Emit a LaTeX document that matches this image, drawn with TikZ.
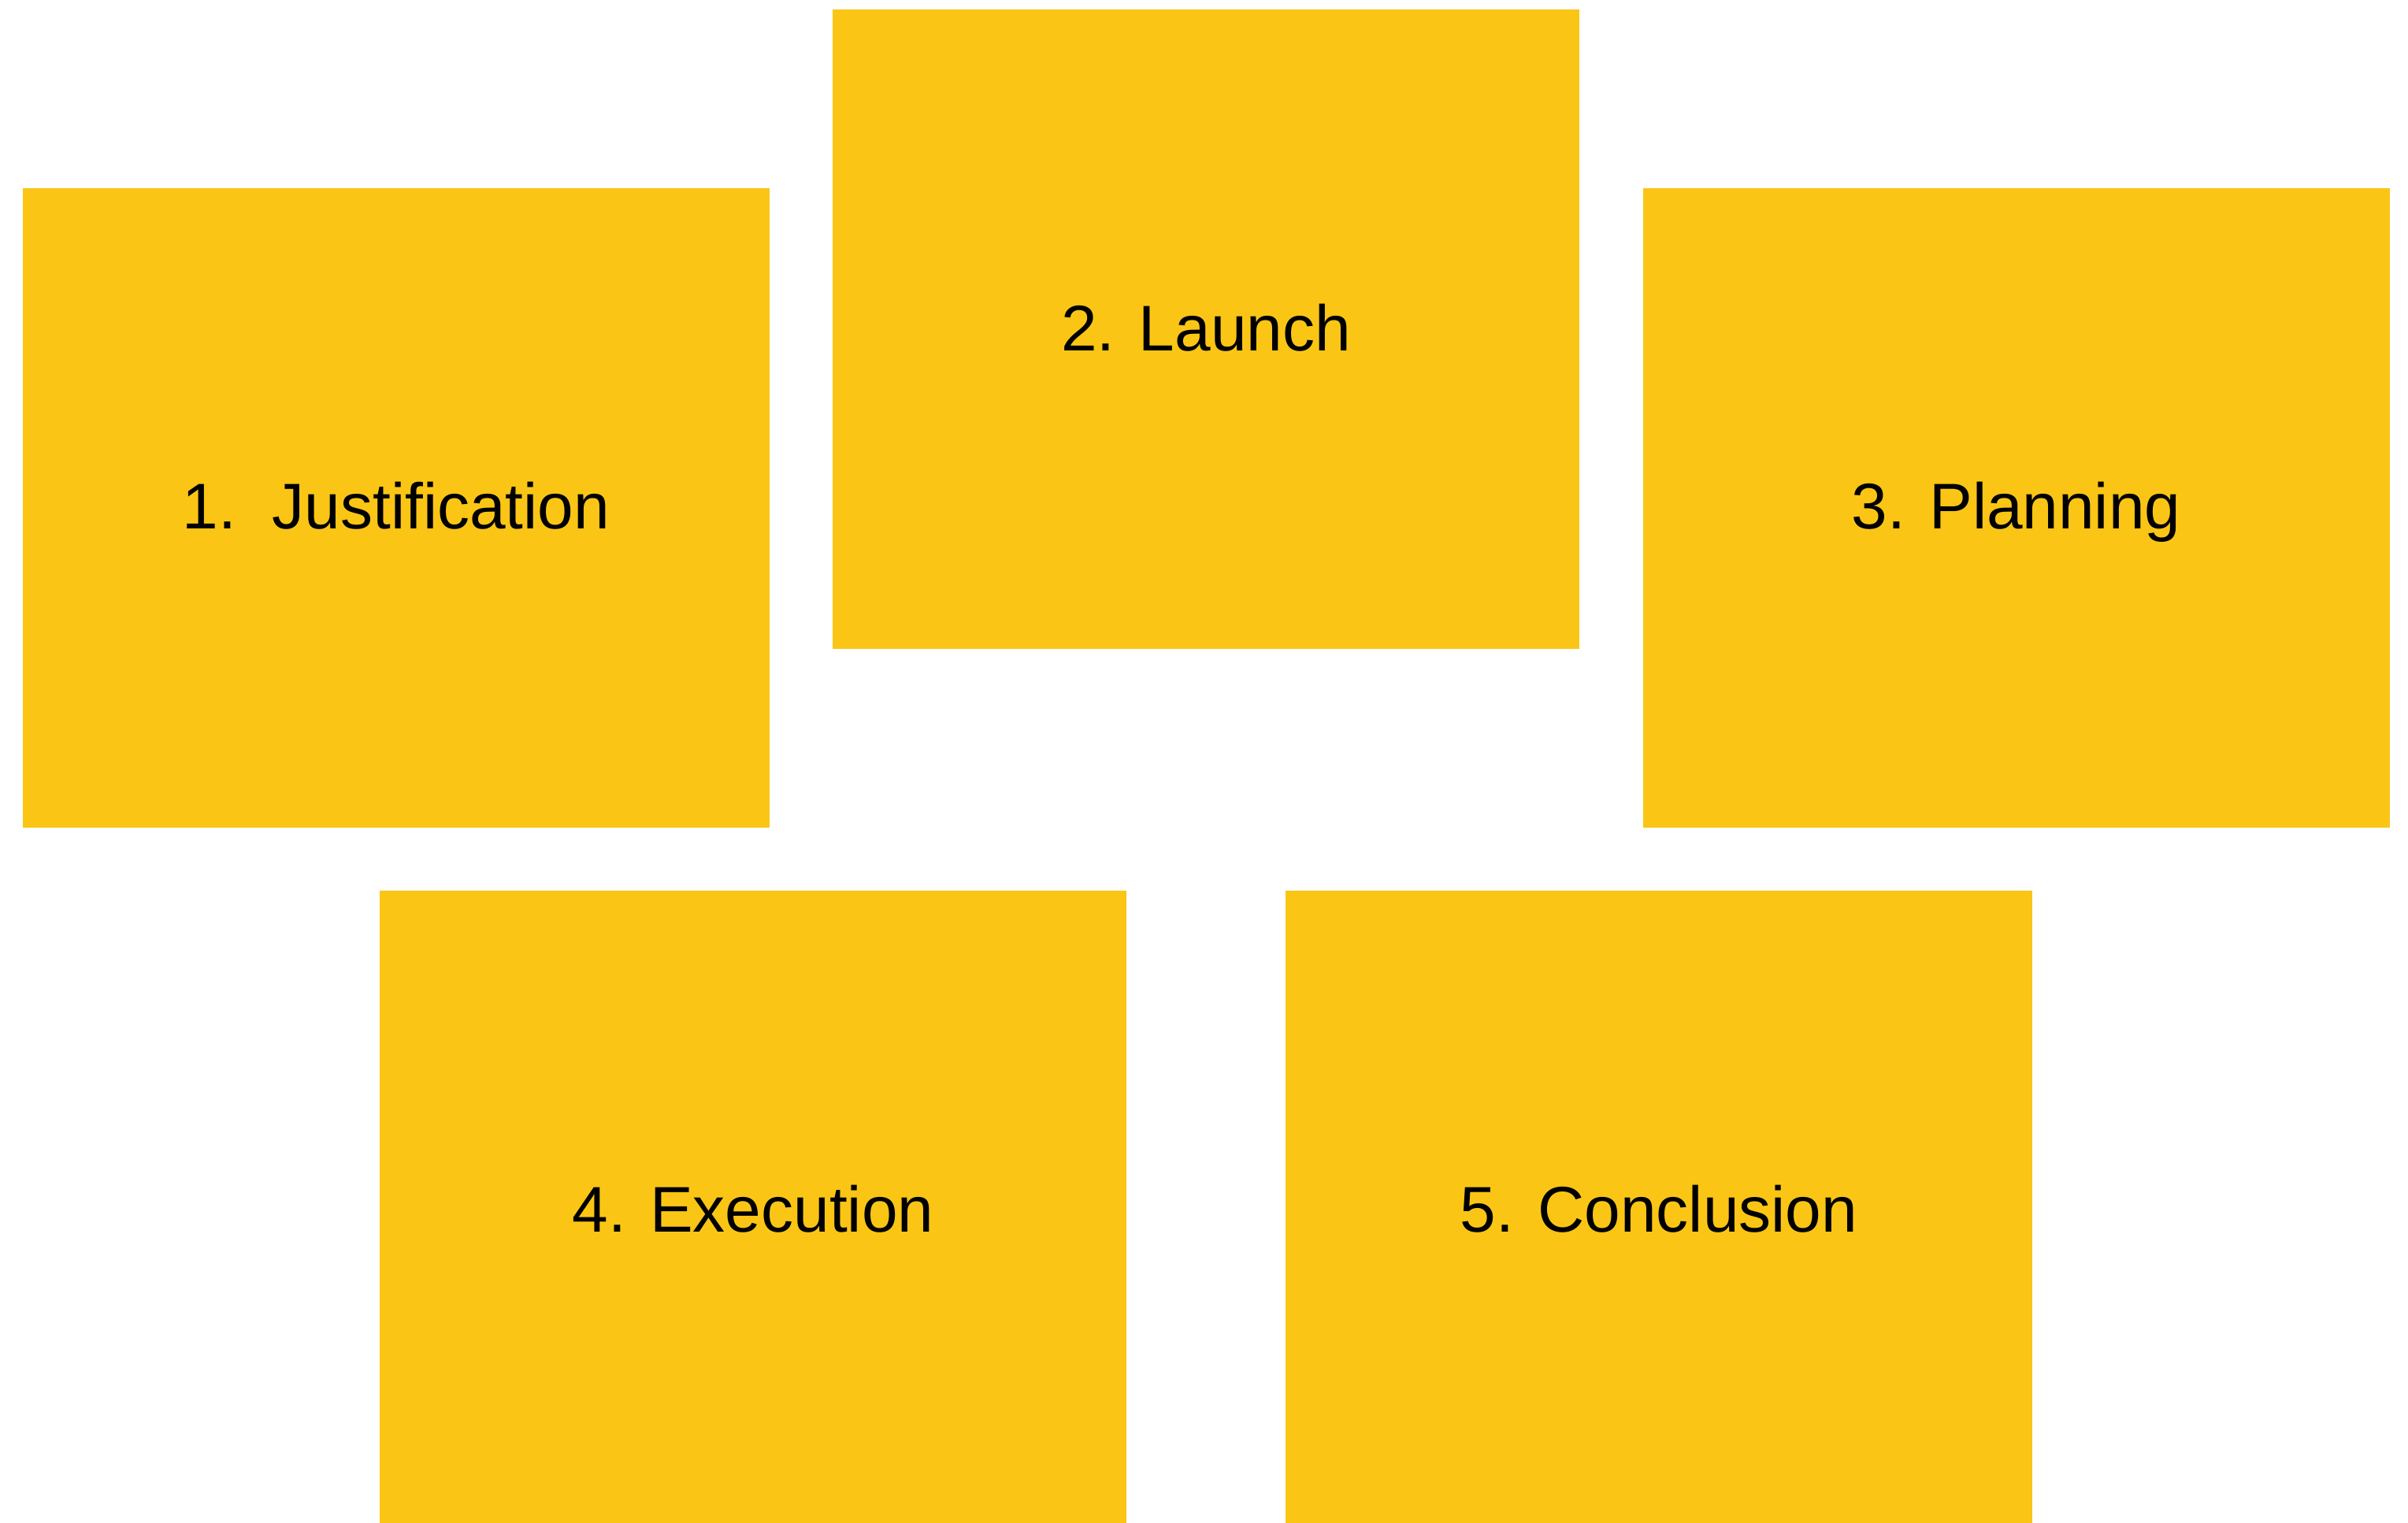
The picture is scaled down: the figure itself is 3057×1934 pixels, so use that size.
\documentclass[tikz,border=0pt]{standalone}
\usepackage{fontspec}
\setmainfont{Liberation Sans}
\definecolor{cardyellow}{RGB}{250,197,21}
\begin{document}
\begin{tikzpicture}[x=0.25pt,y=-0.25pt,
  card/.style={fill=cardyellow,draw=none,minimum width=237pt,minimum height=203pt,inner sep=0pt,anchor=center,
    text height=18pt,text depth=4.5pt,
    font=\fontsize{20.5pt}{24pt}\selectfont,text=black}]
\useasboundingbox (0,0) rectangle (3057,1934);
\fill[white] (0,0) rectangle (3057,1934);
\clip (0,0) rectangle (3057,1934);
\node[card] (j) at (503,645) {1.\ \ Justification};
\node[card] (l) at (1531,418.5) {2. Launch};
\node[card] (p) at (2559.5,645) {3. Planning};
\node[card] (e) at (956,1537) {4. Execution};
\node[card] (c) at (2106,1537) {5. Conclusion};
\end{tikzpicture}
\end{document}
